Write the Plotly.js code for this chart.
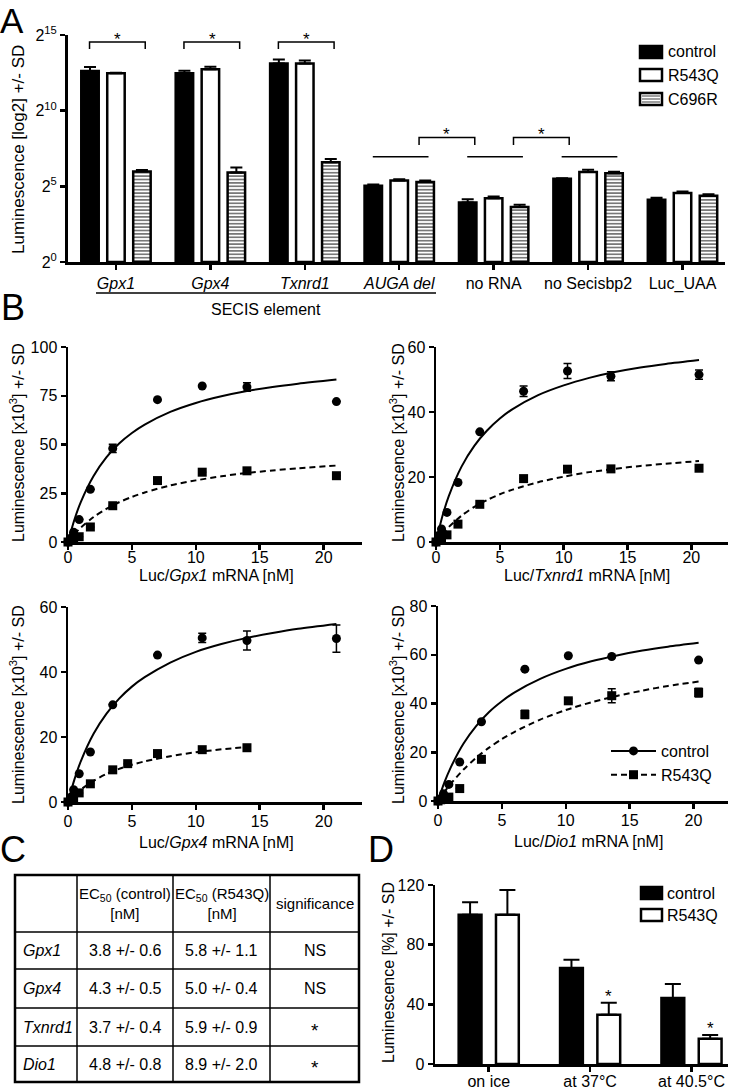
<!DOCTYPE html>
<html>
<head>
<meta charset="utf-8">
<script src="https://cdn.plot.ly/plotly-3.0.1.min.js"></script>
<style>html,body{margin:0;padding:0;background:#fff;}#chart{width:729px;height:1089px;}</style>
</head>
<body>
<div id="chart"></div>
<script>
// ---------------- DATA ----------------
// Panel A (values are log2 luminescence exponents)
const categoriesA = ['Gpx1', 'Gpx4', 'Txnrd1', 'AUGA del', 'no RNA', 'no Secisbp2', 'Luc_UAA'];
const tickLabelsA = ['<i>Gpx1</i>', '<i>Gpx4</i>', '<i>Txnrd1</i>', '<i>AUGA del</i>', 'no RNA', 'no Secisbp2', 'Luc_UAA'];
const controlA = [12.62, 12.48, 13.12, 5.04, 3.93, 5.50, 4.11];
const controlAErr = [0.26, 0.16, 0.26, 0.08, 0.22, 0.03, 0.13];
const r543qA = [12.48, 12.73, 13.12, 5.39, 4.21, 5.94, 4.56];
const r543qAErr = [0.02, 0.17, 0.20, 0.07, 0.11, 0.16, 0.10];
const c696rA = [5.98, 5.91, 6.59, 5.29, 3.64, 5.87, 4.37];
const c696rAErr = [0.10, 0.33, 0.22, 0.10, 0.14, 0.09, 0.10];
const seriesNamesA = ['control', 'R543Q', 'C696R'];

// Panel B1: Gpx1
const gpx1X = [0, 0.22, 0.44, 0.875, 1.75, 3.5, 7, 10.5, 14, 21];
const gpx1Control = [0, 2, 5, 11.5, 27, 48, 73, 80, 79.5, 72];
const gpx1ControlErr = [0, 0, 0, 0, 0, 2.1, 0, 0, 2.2, 0];
const gpx1R543Q = [0, 1, 1.5, 2.7, 7.7, 18.6, 31.5, 35.8, 36.5, 34];
const gpx1FitX = [0, 0.5, 1, 2, 3, 4, 5, 6, 8, 10, 12, 14, 16, 18, 21];
const gpx1FitControl = [0, 11.4, 20.5, 33.9, 43.4, 50.5, 55.9, 60.2, 66.7, 71.3, 74.7, 77.4, 79.5, 81.2, 83.3];
const gpx1FitR543Q = [0, 4.0, 7.4, 12.8, 17.0, 20.4, 23.1, 25.4, 29.0, 31.6, 33.7, 35.4, 36.7, 37.8, 39.2];

// Panel B2: Txnrd1
const txnX = [0, 0.21, 0.43, 0.86, 1.72, 3.43, 6.86, 10.3, 13.7, 20.6];
const txnControl = [0, 2, 4, 9.1, 18.3, 33.9, 46.4, 52.6, 51.0, 51.5];
const txnControlErr = [0, 0, 0, 0, 0, 0, 1.6, 2.3, 1.4, 1.4];
const txnR543Q = [0, 0.5, 1.2, 2.2, 5.5, 11.6, 19.5, 22.4, 22.5, 22.7];
const txnFitX = [0, 0.5, 1, 2, 3, 4, 5, 6, 8, 10, 12, 14, 16, 18, 20.6];
const txnFitControl = [0, 7.9, 14.1, 23.2, 29.6, 34.3, 38.0, 40.9, 45.2, 48.2, 50.5, 52.3, 53.7, 54.8, 56.0];
const txnFitR543Q = [0, 2.5, 4.6, 8.1, 10.8, 12.9, 14.7, 16.1, 18.4, 20.1, 21.5, 22.5, 23.4, 24.1, 24.9];

// Panel B3: Gpx4
const gpx4X = [0, 0.22, 0.44, 0.875, 1.75, 3.5, 7, 10.5, 14, 21];
const gpx4Control = [0, 1.5, 3.8, 8.7, 15.4, 29.9, 45.2, 50.5, 49.7, 50.3];
const gpx4ControlErr = [0, 0, 0, 0, 0, 0, 0, 1.4, 2.9, 4.2];
const gpx4RX = [0, 0.22, 0.44, 0.875, 1.75, 3.5, 4.67, 7, 10.5, 14];
const gpx4R543Q = [0, 0.6, 1.2, 2.8, 5.6, 9.9, 11.8, 14.9, 16.1, 16.7];
const gpx4FitX = [0, 0.5, 1, 2, 3, 4, 5, 6, 8, 10, 12, 14, 16, 18, 21];
const gpx4FitControl = [0, 6.9, 12.5, 21.0, 27.1, 31.8, 35.5, 38.4, 42.9, 46.2, 48.6, 50.5, 52.0, 53.3, 54.8];
const gpx4FitRX = [0, 0.5, 1, 2, 3, 4, 5, 6, 8, 10, 12, 14];
const gpx4FitR543Q = [0, 2.1, 3.8, 6.5, 8.6, 10.2, 11.45, 12.5, 14.1, 15.3, 16.2, 16.9];

// Panel B4: Dio1
const dioX = [0, 0.21, 0.43, 0.85, 1.7, 3.4, 6.8, 10.2, 13.6, 20.4];
const dioControl = [0, 1, 3, 6.8, 16.0, 32.5, 54.1, 59.6, 59.3, 57.8];
const dioR543Q = [0, 0.5, 1, 1.6, 5.1, 17.1, 35.5, 41.1, 43.2, 44.5];
const dioR543QErr = [0, 0, 0, 0, 0, 0, 1.7, 0.8, 2.9, 1.8];
const dioFitX = [0, 0.5, 1, 2, 3, 4, 5, 6, 8, 10, 12, 14, 16, 18, 20.4];
const dioFitControl = [0, 7.6, 13.8, 23.6, 30.8, 36.5, 40.9, 44.6, 50.1, 54.2, 57.3, 59.7, 61.7, 63.3, 64.9];
const dioFitR543Q = [0, 3.75, 7.1, 12.9, 17.8, 21.9, 25.4, 28.4, 33.4, 37.3, 40.5, 43.1, 45.3, 47.2, 49.0];

// Panel C table
const tableHeader = ['', 'EC<sub>50</sub> (control)<br>[nM]', 'EC<sub>50</sub> (R543Q)<br>[nM]', 'significance'];
const tableGenes = ['Gpx1', 'Gpx4', 'Txnrd1', 'Dio1'];
const ec50Control = ['3.8 +/- 0.6', '4.3 +/- 0.5', '3.7 +/- 0.4', '4.8 +/- 0.8'];
const ec50R543Q = ['5.8 +/- 1.1', '5.0 +/- 0.4', '5.9 +/- 0.9', '8.9 +/- 2.0'];
const significance = ['NS', 'NS', '*', '*'];

// Panel D
const categoriesD = ['on ice', 'at 37°C', 'at 40.5°C'];
const controlD = [100, 64.3, 44.2];
const controlDErr = [8.5, 5.6, 9.4];
const r543qD = [100, 33.0, 17.0];
const r543qDErr = [16.7, 8.1, 2.4];
const sigD = ['', '*', '*'];

// ---------------- HELPERS ----------------
const F = 'Liberation Sans, Arial, Helvetica, sans-serif';
const W = 729, H = 1089;
const px = v => v / W;
const py = v => 1 - v / H;
const zeros = a => a.map(() => 0);
const idxA = categoriesA.map((_, i) => i);
const idxD = categoriesD.map((_, i) => i);

const traces = [];
const shapes = [];
const annotations = [];

function ann(text, x, y, size, opts) {
  annotations.push(Object.assign({
    text: text, x: px(x), y: py(y), xref: 'paper', yref: 'paper',
    showarrow: false, xanchor: 'center', yanchor: 'middle',
    font: {family: F, size: size, color: 'black'}
  }, opts || {}));
}

// ---------------- PANEL A ----------------
const barW = 0.185;
const aSeries = [
  {y: controlA, e: controlAErr, center: -0.275, marker: {color: 'black'}},
  {y: r543qA, e: r543qAErr, center: 0, marker: {color: 'white'}},
  {y: c696rA, e: c696rAErr, center: 0.275, marker: {color: 'white', pattern: {shape: '-', fgcolor: '#6a6a6a', bgcolor: 'white', size: 3.4, solidity: 0.45}}}
];
aSeries.forEach((s, k) => {
  traces.push({
    type: 'bar', name: seriesNamesA[k], x: idxA, y: s.y, xaxis: 'x', yaxis: 'y',
    width: barW, offset: s.center - barW / 2,
    marker: Object.assign({line: {color: 'black', width: 2.5}}, s.marker),
    error_y: {type: 'data', symmetric: false, array: s.e, arrayminus: zeros(s.e), color: 'black', thickness: 2, width: 6},
    showlegend: false, hoverinfo: 'skip'
  });
});

// significance brackets in A
[0, 1, 2].forEach(i => {
  shapes.push({type: 'path', xref: 'x', yref: 'y', path: `M ${i - 0.28},14.08 L ${i - 0.28},14.54 L ${i + 0.31},14.54 L ${i + 0.31},14.08`, line: {color: 'black', width: 1.5}});
  annotations.push({text: '*', x: i + 0.02, y: 14.72, xref: 'x', yref: 'y', showarrow: false, font: {family: F, size: 17, color: 'black'}});
});
[3, 4, 5].forEach(i => {
  shapes.push({type: 'line', xref: 'x', yref: 'y', x0: i - 0.28, x1: i + 0.31, y0: 6.96, y1: 6.96, line: {color: 'black', width: 1.5}});
});
[[3.21, 3.80], [4.21, 4.80]].forEach(b => {
  shapes.push({type: 'path', xref: 'x', yref: 'y', path: `M ${b[0]},7.73 L ${b[0]},8.22 L ${b[1]},8.22 L ${b[1]},7.73`, line: {color: 'black', width: 1.5}});
  annotations.push({text: '*', x: (b[0] + b[1]) / 2, y: 8.40, xref: 'x', yref: 'y', showarrow: false, font: {family: F, size: 17, color: 'black'}});
});
// SECIS element underline
shapes.push({type: 'line', xref: 'paper', yref: 'paper', x0: px(96), x1: px(436), y0: py(293), y1: py(293), line: {color: 'black', width: 1.5}});
ann('SECIS element', 266, 309, 16);

// legend A (custom boxes)
const legRowsA = [52, 75, 99];
legRowsA.forEach((yy, k) => {
  const fill = k === 0 ? 'black' : 'white';
  shapes.push({type: 'rect', xref: 'paper', yref: 'paper', x0: px(640), x1: px(662), y0: py(yy - 6), y1: py(yy + 6), fillcolor: fill, line: {color: 'black', width: 2.5}});
  if (k === 2) {
    [-3, 0, 3].forEach(d => shapes.push({type: 'line', xref: 'paper', yref: 'paper', x0: px(642), x1: px(660), y0: py(yy + d), y1: py(yy + d), line: {color: '#6a6a6a', width: 1.3}}));
  }
  ann(seriesNamesA[k], 666, yy, 16, {xanchor: 'left'});
});

// ---------------- PANEL B ----------------
function bPanel(xa, ya, ctlX, ctl, ctlErr, rX, r, rErr, fitCX, fitC, fitRX, fitR) {
  traces.push({type: 'scatter', mode: 'lines', x: fitCX, y: fitC, xaxis: xa, yaxis: ya, line: {color: 'black', width: 2, shape: 'spline', smoothing: 0.8}, showlegend: false, hoverinfo: 'skip', cliponaxis: false});
  traces.push({type: 'scatter', mode: 'lines', x: fitRX, y: fitR, xaxis: xa, yaxis: ya, line: {color: 'black', width: 2, dash: '6px,4px', shape: 'spline', smoothing: 0.8}, showlegend: false, hoverinfo: 'skip', cliponaxis: false});
  traces.push({type: 'scatter', mode: 'markers', x: ctlX, y: ctl, xaxis: xa, yaxis: ya, marker: {symbol: 'circle', size: 9, color: 'black'},
    error_y: {type: 'data', array: ctlErr, color: 'black', thickness: 1.5, width: 4}, showlegend: false, cliponaxis: false});
  traces.push({type: 'scatter', mode: 'markers', x: rX, y: r, xaxis: xa, yaxis: ya, marker: {symbol: 'square', size: 9, color: 'black'},
    error_y: {type: 'data', array: rErr, color: 'black', thickness: 1.5, width: 4}, showlegend: false, cliponaxis: false});
}
bPanel('x2', 'y2', gpx1X, gpx1Control, gpx1ControlErr, gpx1X, gpx1R543Q, zeros(gpx1R543Q), gpx1FitX, gpx1FitControl, gpx1FitX, gpx1FitR543Q);
bPanel('x3', 'y3', txnX, txnControl, txnControlErr, txnX, txnR543Q, zeros(txnR543Q), txnFitX, txnFitControl, txnFitX, txnFitR543Q);
bPanel('x4', 'y4', gpx4X, gpx4Control, gpx4ControlErr, gpx4RX, gpx4R543Q, zeros(gpx4R543Q), gpx4FitX, gpx4FitControl, gpx4FitRX, gpx4FitR543Q);
bPanel('x5', 'y5', dioX, dioControl, zeros(dioControl), dioX, dioR543Q, dioR543QErr, dioFitX, dioFitControl, dioFitX, dioFitR543Q);
// legend entries for panel B
traces.push({type: 'scatter', mode: 'lines+markers', name: 'control', x: [null], y: [null], xaxis: 'x5', yaxis: 'y5', legend: 'legend2',
  line: {color: 'black', width: 2}, marker: {symbol: 'circle', size: 9, color: 'black'}});
traces.push({type: 'scatter', mode: 'lines+markers', name: 'R543Q', x: [null], y: [null], xaxis: 'x5', yaxis: 'y5', legend: 'legend2',
  line: {color: 'black', width: 2, dash: '6px,4px'}, marker: {symbol: 'square', size: 9, color: 'black'}});

// ---------------- PANEL C (table) ----------------
const colEdges = [15, 77, 173, 270, 359];
const rowEdges = [875, 932, 969, 1008, 1046, 1082];
shapes.push({type: 'rect', xref: 'paper', yref: 'paper', x0: px(colEdges[0]), x1: px(colEdges[4]), y0: py(rowEdges[0]), y1: py(rowEdges[5]), line: {color: 'black', width: 2.5}});
colEdges.slice(1, 4).forEach(c => shapes.push({type: 'line', xref: 'paper', yref: 'paper', x0: px(c), x1: px(c), y0: py(rowEdges[0]), y1: py(rowEdges[5]), line: {color: 'black', width: 1.5}}));
rowEdges.slice(1, 5).forEach(r => shapes.push({type: 'line', xref: 'paper', yref: 'paper', x0: px(colEdges[0]), x1: px(colEdges[4]), y0: py(r), y1: py(r), line: {color: 'black', width: 1.5}}));
const colCenter = k => (colEdges[k] + colEdges[k + 1]) / 2;
const rowCenter = k => (rowEdges[k] + rowEdges[k + 1]) / 2;
tableHeader.forEach((h, k) => { if (h) ann(h, colCenter(k), rowCenter(0), 15); });
tableGenes.forEach((g, r) => {
  const yy = rowCenter(r + 1);
  ann('<i>' + g + '</i>', 21, yy, 16, {xanchor: 'left'});
  ann(ec50Control[r], colCenter(1), yy, 16);
  ann(ec50R543Q[r], colCenter(2), yy, 16);
  ann(significance[r], colCenter(3), significance[r] === '*' ? yy + 3 : yy, significance[r] === '*' ? 19 : 16);
});

// ---------------- PANEL D ----------------
const barWD = 0.225;
[[controlD, controlDErr, -0.184, 'black', 'control'], [r543qD, r543qDErr, 0.184, 'white', 'R543Q']].forEach(s => {
  traces.push({type: 'bar', name: s[4], x: idxD, y: s[0], xaxis: 'x6', yaxis: 'y6', width: barWD, offset: s[2] - barWD / 2,
    marker: {color: s[3], line: {color: 'black', width: 2.5}},
    error_y: {type: 'data', symmetric: false, array: s[1], arrayminus: zeros(s[1]), color: 'black', thickness: 2, width: 8},
    showlegend: false, hoverinfo: 'skip'});
});
sigD.forEach((s, i) => {
  if (s) annotations.push({text: s, x: i + 0.184, y: r543qD[i] + r543qDErr[i] - 3.5, xref: 'x6', yref: 'y6', showarrow: false, yanchor: 'bottom', font: {family: F, size: 17, color: 'black'}});
});
// legend D (custom boxes)
[[893, 'black', 'control'], [915, 'white', 'R543Q']].forEach(l => {
  shapes.push({type: 'rect', xref: 'paper', yref: 'paper', x0: px(641), x1: px(662), y0: py(l[0] - 6), y1: py(l[0] + 6), fillcolor: l[1], line: {color: 'black', width: 2.5}});
  ann(l[2], 665, l[0], 16, {xanchor: 'left'});
});

// ---------------- TITLES / LABELS ----------------
ann('A', 12, 0, 35, {yanchor: 'top', borderpad: 0});
ann('B', 13, 307, 36);
ann('C', 13, 849, 36);
ann('D', 381, 849, 36);
ann('Luminescence [log2] +/- SD', 18, 150, 17, {textangle: -90});
const yTitleB = 'Luminescence [x10<sup>3</sup>] +/- SD';
ann(yTitleB, 17, 443, 16, {textangle: -90});
ann(yTitleB, 397, 443, 16, {textangle: -90});
ann(yTitleB, 17, 705, 16, {textangle: -90});
ann(yTitleB, 397, 705, 16, {textangle: -90});
ann('Luc/<i>Gpx1</i> mRNA [nM]', 216, 575, 16);
ann('Luc/<i>Txnrd1</i> mRNA [nM]', 587, 575, 16);
ann('Luc/<i>Gpx4</i> mRNA [nM]', 216, 842, 16);
ann('Luc/<i>Dio1</i> mRNA [nM]', 588, 841, 16);
ann('Luminescence [%] +/- SD', 388, 973, 16, {textangle: -90});

// ---------------- AXES ----------------
const axBase = {showline: true, linecolor: 'black', linewidth: 2.5, ticks: 'outside', ticklen: 5, tickwidth: 2.5, tickcolor: 'black',
  showgrid: false, zeroline: false, fixedrange: true, tickfont: {family: F, size: 16, color: 'black'}};
const ax = o => Object.assign({}, axBase, o);

const layout = {
  width: W, height: H, margin: {l: 0, r: 0, t: 0, b: 0}, paper_bgcolor: 'white', plot_bgcolor: 'rgba(0,0,0,0)',
  barmode: 'overlay', showlegend: true,
  xaxis: ax({domain: [px(68), px(725)], range: [-0.508, 6.45], tickvals: idxA, ticktext: tickLabelsA, anchor: 'y', linewidth: 3}),
  yaxis: ax({domain: [py(262), py(35)], range: [0, 15], tickvals: [0, 5, 10, 15], ticktext: ['2<sup>0</sup>', '2<sup>5</sup>', '2<sup>10</sup>', '2<sup>15</sup>'], anchor: 'x', linewidth: 3}),
  xaxis2: ax({domain: [px(68), px(362)], range: [0, 23], tickvals: [0, 5, 10, 15, 20], anchor: 'y2', ticklabelstandoff: -6}),
  yaxis2: ax({domain: [py(542), py(347)], range: [0, 100], tickvals: [0, 25, 50, 75, 100], anchor: 'x2'}),
  xaxis3: ax({domain: [px(436), px(728)], range: [0, 22.87], tickvals: [0, 5, 10, 15, 20], anchor: 'y3', ticklabelstandoff: -6}),
  yaxis3: ax({domain: [py(542), py(347)], range: [0, 60], tickvals: [0, 20, 40, 60], anchor: 'x3'}),
  xaxis4: ax({domain: [px(68), px(362)], range: [0, 23], tickvals: [0, 5, 10, 15, 20], anchor: 'y4', ticklabelstandoff: -2}),
  yaxis4: ax({domain: [py(802), py(607)], range: [0, 60], tickvals: [0, 20, 40, 60], anchor: 'x4'}),
  xaxis5: ax({domain: [px(438), px(728)], range: [0, 22.7], tickvals: [0, 5, 10, 15, 20], anchor: 'y5', ticklabelstandoff: -2}),
  yaxis5: ax({domain: [py(801), py(606)], range: [0, 80], tickvals: [0, 20, 40, 60, 80], anchor: 'x5'}),
  xaxis6: ax({domain: [px(435), px(728)], range: [-0.53, 2.36], tickvals: idxD, ticktext: categoriesD, anchor: 'y6', ticklabelstandoff: -4}),
  yaxis6: ax({domain: [py(1064), py(885)], range: [0, 120], tickvals: [0, 40, 80, 120], anchor: 'x6'}),
  legend2: {x: px(606), y: py(734), xanchor: 'left', yanchor: 'top', bgcolor: 'rgba(0,0,0,0)', borderwidth: 0,
    font: {family: F, size: 16, color: 'black'}, itemwidth: 45, tracegroupgap: 0},
  shapes: shapes,
  annotations: annotations
};

Plotly.newPlot('chart', traces, layout, {staticPlot: true, displayModeBar: false});
</script>
</body>
</html>
